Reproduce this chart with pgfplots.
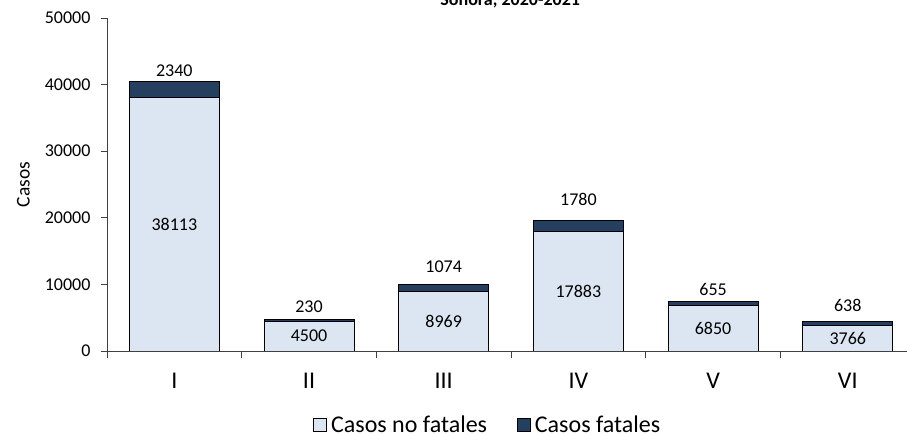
\documentclass[border=0pt]{standalone}
\usepackage{pgfplots}
\pgfplotsset{compat=1.18}
\usepackage{pgfplotstable}
\usepackage{fontspec}
\setmainfont{Carlito}
\definecolor{lightc}{HTML}{DCE6F2}
\definecolor{darkc}{HTML}{243F60}
% lo = extra label offset (bp) above the bar top
\pgfplotstableread{
x nf f lo
0 38113 2340 1
1 4500 230 2.6
2 8969 1074 7.3
3 17883 1780 11
4 6850 655 1.7
5 3766 638 6
}\data
\begin{document}
\begin{tikzpicture}
\useasboundingbox (0,0) rectangle (907bp,435bp);
\begin{axis}[
  at={(107bp,84bp)}, anchor=south west,
  scale only axis, width=800bp, height=333bp,
  xmin=-0.5, xmax=5.44, ymin=0, ymax=50000,
  /pgf/number format/1000 sep={},
  /pgf/number format/assume math mode=true,
  every node near coord/.append style={font=\fontsize{18bp}{21bp}\selectfont, text=black},
  ybar stacked, bar width=90bp,
  axis lines=left, axis line style={-, draw=black!75, line width=1bp},
  ytick={0,10000,...,50000},
  scaled y ticks=false,
  tick align=outside, major tick length=6bp,
  ytick style={draw=black!75, line width=1bp},
  xtick={0,...,5}, xticklabels={I,II,III,IV,V,VI},
  xtick style={draw=none},
  extra x ticks={-0.5,0.5,1.5,2.5,3.5,4.5}, extra x tick labels={},
  extra x tick style={xtick style={draw=black!75, line width=1bp}, major tick length=7bp},
  yticklabel style={font=\fontsize{18bp}{21bp}\selectfont, xshift=-7bp},
  xticklabel style={font=\fontsize{24bp}{28bp}\selectfont, yshift=-13bp},
  ylabel={Casos},
  ylabel style={at={(axis description cs:-0.1044,0.5)}, anchor=center, font=\fontsize{19.5bp}{22bp}\selectfont},
  title={\textbf{Sonora, 2020-2021}},
  title style={at={(axis description cs:0.504,1)}, anchor=base, yshift=7bp, font=\fontsize{18bp}{21bp}\selectfont},
  legend columns=2,
  legend style={at={(axis description cs:0.476,-0.222)}, anchor=center, draw=none, fill=none,
    font=\fontsize{24bp}{28bp}\selectfont,
    /tikz/every odd column/.append style={column sep=2bp},
    /tikz/every even column/.append style={column sep=28bp}},
]
\addplot[ybar, fill=lightc, draw=black, line width=1bp, forget plot,
  nodes near coords, point meta=rawy]
  table[x=x, y=nf] {\data};
\addplot[ybar, fill=darkc, draw=black, line width=1bp, forget plot,
  nodes near coords, point meta=rawy,
  visualization depends on={rawy \as \ry},
  visualization depends on={\thisrow{lo} \as \lo},
  every node near coord/.append style={anchor=south, yshift={\ry*0.00333bp+\lo*1bp}}]
  table[x=x, y=f] {\data};
\addlegendimage{legend image code/.code={\draw[fill=lightc, draw=black, line width=0.8bp] (0bp,-6.5bp) rectangle (13bp,6.5bp);}}
\addlegendentry{Casos no fatales}
\addlegendimage{legend image code/.code={\draw[fill=darkc, draw=black, line width=0.8bp] (0bp,-6.5bp) rectangle (13bp,6.5bp);}}
\addlegendentry{Casos fatales}
\end{axis}
\end{tikzpicture}
\end{document}
